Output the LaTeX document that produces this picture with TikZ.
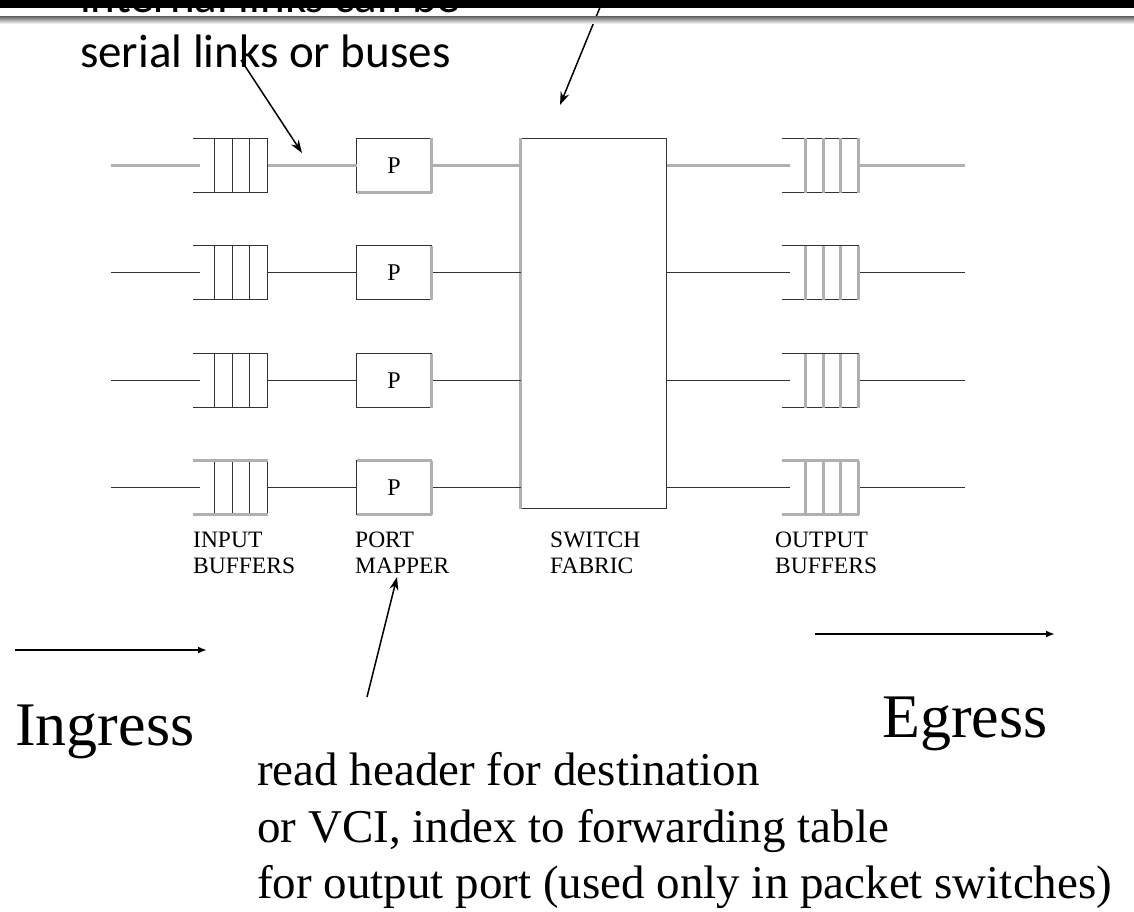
\documentclass[tikz,border=0pt]{standalone}
\usepackage{fontspec}
\setmainfont{Liberation Serif}
\newfontfamily\slidefont{Carlito}
\usepackage{xcolor}
\usepackage{tikz}
\usetikzlibrary{arrows.meta}

\definecolor{dk}{HTML}{333333}
\definecolor{lg}{HTML}{B0B0B0}

\tikzset{
  qbox/.style={minimum width=75pt, minimum height=54pt, inner sep=0pt, outer sep=0pt},
  pbox/.style={draw=dk, line width=1.6pt, minimum width=75pt, minimum height=54pt,
    inner sep=0pt, outer sep=0pt, font=\fontsize{24}{24}\selectfont},
  fab/.style={draw=dk, line width=1.6pt, minimum width=146pt, minimum height=370pt,
    inner sep=0pt, outer sep=0pt},
  dline/.style={draw=dk, line width=1.6pt},
  gline/.style={draw=lg, line width=2.6pt},
  lbl/.style={anchor=base west, inner sep=0pt, font=\fontsize{23.5}{26}\selectfont},
  slide/.style={anchor=base west, inner sep=0pt, font=\slidefont\fontsize{47}{57}\selectfont},
  note/.style={anchor=base west, inner sep=0pt, font=\fontsize{47}{57}\selectfont},
  big/.style={anchor=base west, inner sep=0pt, font=\fontsize{62}{70}\selectfont},
  ptr/.style={-{Stealth[length=13pt,width=9pt]}, line width=1.5pt},
  way/.style={-{Latex[length=9pt,width=7pt]}, line width=1.8pt},
}

\begin{document}
\begin{tikzpicture}[x=1pt, y=-1pt]
    \fill[white] (0,0) rectangle (1134,912);
    \useasboundingbox (0,0) rectangle (1134,912);

    % Slide title, cut at the top
    \node[slide] (cut) at (80,13) {internal links can be};
    \node[slide] (links) at (80,68) {serial links or buses};
    \coordinate (ftop) at (603,0);
    \coordinate (fpt) at (560,105);
    \draw[ptr] (ftop) -- (fpt);
    \fill[black] (0,0) rectangle (1134,8);
    \shade[top color=black!55, bottom color=white] (0,17) rectangle (1134,24);

    % Switch fabric
    \node[fab] (sw) at (593.5,323.5) {};
    \draw[gline] (sw.north west) -- (sw.south west);

    % Ports
    \foreach \i/\y/\c in {1/165.5/gline, 2/272.5/dline, 3/380.5/dline, 4/487.5/dline} {
        \coordinate (src\i) at (111,\y);
        \coordinate (dst\i) at (965,\y);
        \node[qbox] (in\i) at (230,\y) {};
        \node[pbox] (p\i) at (394,\y) {P};
        \node[qbox, minimum width=77pt] (out\i) at (820,\y) {};

        % links
        \draw[\c] (src\i) -- ([xshift=7pt]in\i.west);
        \draw[\c] (in\i.east) -- (p\i.west);
        \draw[\c] (p\i.east) -- (sw.west |- p\i.east);
        \draw[\c] (sw.east |- out\i.west) -- ([xshift=8pt]out\i.west);
        \draw[\c] (out\i.east) -- (dst\i);

        % input buffer
        \draw[dline] (in\i.north west) -- (in\i.north east) -- (in\i.south east) -- (in\i.south west);
        \foreach \d in {22,40,57}
            \draw[dline] ([xshift=\d pt]in\i.north west) -- ([xshift=\d pt]in\i.south west);

        % output buffer
        \draw[dline] (out\i.north west) -- (out\i.north east);
        \draw[dline] (out\i.south west) -- (out\i.south east);
        \foreach \d in {24,42,59,77}
            \draw[gline] ([xshift=\d pt]out\i.north west) -- ([xshift=\d pt]out\i.south west);

        \draw[gline] (p\i.north east) -- (p\i.south east);
    }
    \draw[gline] (p1.south west) -- (p1.south east);
    \draw[gline] (p4.north west) -- (p4.north east);
    \draw[gline] (p4.south west) -- (p4.south east);
    \draw[gline] (in4.north west) -- (in4.north east);
    \draw[gline] (in4.south west) -- (in4.south east);
    \draw[gline] (out4.north west) -- (out4.north east);
    \draw[gline] (out4.south west) -- (out4.south east);

    % Column labels
    \foreach \x/\a/\b/\n in {193/INPUT/BUFFERS/ib, 355/PORT/MAPPER/pm,
                             550/SWITCH/FABRIC/sf, 775/OUTPUT/BUFFERS/ob} {
        \node[lbl] (\n-a) at (\x,547) {\a};
        \node[lbl] (\n-b) at (\x,573) {\b};
    }

    % Pointers
    \coordinate (kpt) at (241,60);
    \coordinate (lpt) at (302,153);
    \draw[ptr] (kpt) -- (lpt);
    \coordinate (rpt) at (367,697);
    \coordinate (mpt) at (397,577);
    \draw[ptr] (rpt) -- (mpt);

    % Direction
    \coordinate (ing-a) at (15,650);
    \coordinate (ing-b) at (207,650);
    \draw[way] (ing-a) -- (ing-b);
    \node[big] (ing) at (15,745) {Ingress};
    \coordinate (eg-a) at (815,634);
    \coordinate (eg-b) at (1055,634);
    \draw[way] (eg-a) -- (eg-b);
    \node[big] (eg) at (882,737) {Egress};

    % Port mapper note
    \node[note] (rd1) at (257,785) {read header for destination};
    \node[note] (rd2) at (257,842) {or VCI, index to forwarding table};
    \node[note] (rd3) at (257,898) {for output port (used only in packet switches)};
\end{tikzpicture}
\end{document}
